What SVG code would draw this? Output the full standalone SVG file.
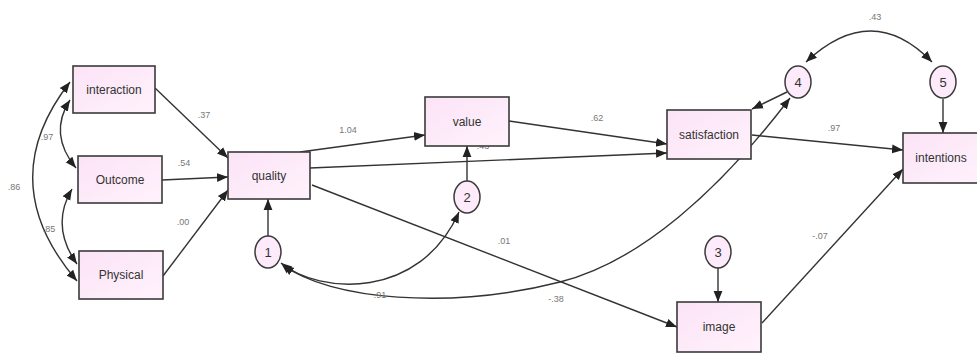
<svg xmlns="http://www.w3.org/2000/svg" width="977" height="353" viewBox="0 0 977 353">
<defs>
<linearGradient id="g" x1="0" y1="0" x2="1" y2="1"><stop offset="0" stop-color="#fbe3f6"/><stop offset="1" stop-color="#fff2fc"/></linearGradient>
<marker id="a" viewBox="0 0 10 10" refX="10" refY="5" markerWidth="11" markerHeight="11" markerUnits="userSpaceOnUse" orient="auto-start-reverse"><path d="M0,1 L10,5 L0,9 z" fill="#222"/></marker>
</defs>
<style>
.box{fill:url(#g);stroke:#3a3a3a;stroke-width:1.6}
.c{fill:#fdeafa;stroke:#3a3a3a;stroke-width:1.5}
.t{font-family:"Liberation Sans",Arial,sans-serif;font-size:12px;fill:#333;text-anchor:middle}
.n{font-family:"Liberation Sans",Arial,sans-serif;font-size:13px;fill:#333;text-anchor:middle}
.l{font-family:"Liberation Sans",Arial,sans-serif;font-size:9px;fill:#777;text-anchor:middle}
.e{fill:none;stroke:#333;stroke-width:1.4;marker-end:url(#a)}
.d{fill:none;stroke:#333;stroke-width:1.4;marker-start:url(#a);marker-end:url(#a)}
</style>
<rect width="977" height="353" fill="#fff"/>
<g id="connectors">
<path class="e" d="M155,88 L228,158"/>
<path class="e" d="M162,180 L228,177"/>
<path class="e" d="M163,276 L228,190"/>
<path class="d" d="M70,100 Q48,134 76,168"/>
<path class="d" d="M72,189 Q50,226 77,264"/>
<path class="d" d="M70,82 Q-8,182 77,281"/>
<path class="e" d="M300,152 L425,135"/>
<path class="e" d="M310,168 L667,153"/>
<path class="e" d="M312,185 L677,327"/>
<path class="e" d="M509,121 L667,144"/>
<path class="e" d="M268,236 L268,199"/>
<path class="e" d="M467,181 L467,146"/>
<path class="e" d="M718,268 L718,302"/>
<path class="e" d="M943,99 L943,133"/>
<path class="e" d="M787,92 L752,109"/>
<path class="e" d="M752,135 L903,150"/>
<path class="e" d="M762,323 L903,169"/>
<path class="d" d="M806,62 Q872,0 932,62"/>
<path class="d" d="M281,263 C320,295 420,300 459,212"/>
<path class="d" d="M283,265 C330,300 450,310 560,282 C640,262 720,190 790,98"/>
</g>
<g id="labels">
<text class="l" x="204" y="118">.37</text>
<text class="l" x="184" y="166">.54</text>
<text class="l" x="183" y="225">.00</text>
<text class="l" x="47" y="140">.97</text>
<text class="l" x="14" y="190">.86</text>
<text class="l" x="49" y="232">.85</text>
<text class="l" x="348" y="133">1.04</text>
<text class="l" x="597" y="121">.62</text>
<text class="l" x="483" y="149">.43</text>
<text class="l" x="834" y="131">.97</text>
<text class="l" x="875" y="20">.43</text>
<text class="l" x="504" y="244">.01</text>
<text class="l" x="556" y="302">-.38</text>
<text class="l" x="820" y="239">-.07</text>
<text class="l" x="380" y="298">.91</text>
</g>
<g id="interaction"><rect class="box" x="73" y="66" width="82" height="47"/><text class="t" x="114" y="94">interaction</text></g>
<g id="outcome"><rect class="box" x="78" y="156" width="84" height="47"/><text class="t" x="120" y="184">Outcome</text></g>
<g id="physical"><rect class="box" x="79" y="251" width="84" height="48"/><text class="t" x="121" y="279">Physical</text></g>
<g id="quality"><rect class="box" x="228" y="152" width="82" height="47"/><text class="t" x="269" y="180">quality</text></g>
<g id="value"><rect class="box" x="425" y="97" width="84" height="49"/><text class="t" x="467" y="126">value</text></g>
<g id="satisfaction"><rect class="box" x="667" y="110" width="84" height="49"/><text class="t" x="709" y="139">satisfaction</text></g>
<g id="intentions"><rect class="box" x="903" y="133" width="80" height="50"/><text class="t" x="941" y="162">intentions</text></g>
<g id="image"><rect class="box" x="677" y="302" width="84" height="50"/><text class="t" x="719" y="331">image</text></g>
<g id="e1"><ellipse class="c" cx="268" cy="252" rx="13" ry="16"/><text class="n" x="268" y="257">1</text></g>
<g id="e2"><ellipse class="c" cx="467" cy="197" rx="13" ry="16"/><text class="n" x="467" y="202">2</text></g>
<g id="e3"><ellipse class="c" cx="718" cy="252" rx="13" ry="16"/><text class="n" x="718" y="257">3</text></g>
<g id="e4"><ellipse class="c" cx="798" cy="82" rx="13" ry="16"/><text class="n" x="798" y="87">4</text></g>
<g id="e5"><ellipse class="c" cx="943" cy="82" rx="13" ry="16"/><text class="n" x="943" y="87">5</text></g>
</svg>
